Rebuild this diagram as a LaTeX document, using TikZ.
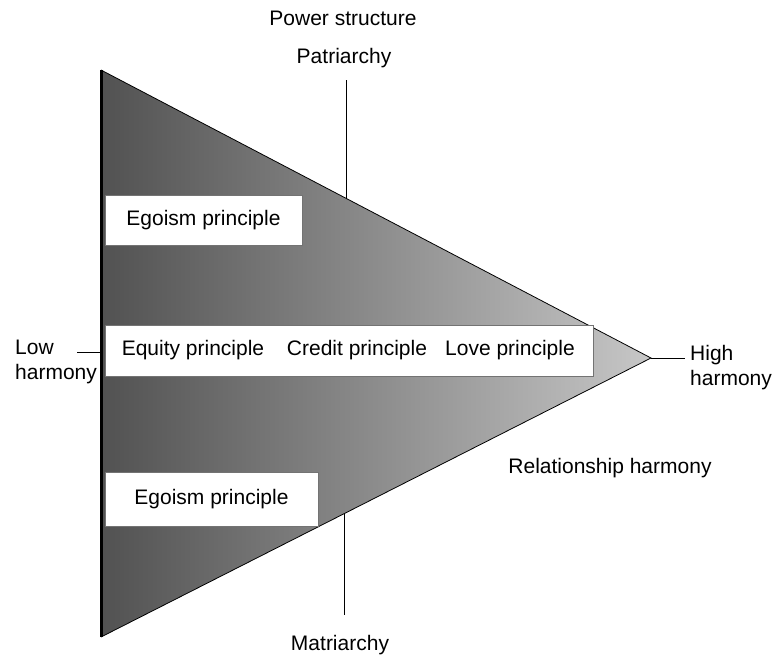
\documentclass[tikz,border=0pt]{standalone}
\usepackage{fontspec}
\setmainfont{Liberation Sans}
\begin{document}
\begin{tikzpicture}[x=1pt, y=-1pt,
    lbl/.style={font=\fontsize{21}{25}\selectfont, inner sep=0pt},
    pbox/.style={fill=white, draw=black!55, line width=.6pt, inner sep=0pt}]
    \useasboundingbox (0,0) rectangle (776,657);
    % triangle
    \coordinate (tl) at (101,70);
    \coordinate (bl) at (101,637);
    \coordinate (apex) at (651,358);
    \shade[left color=black!68, right color=black!22] (tl) -- (apex) -- (bl) -- cycle;
    \draw[line width=.8pt] (tl) -- (apex) -- (bl);
    \draw[line width=3pt] (tl) -- (bl);
    % principle boxes
    \node[pbox, lbl, minimum width=197, minimum height=50] (egotop) at (203.5,220) {Egoism principle};
    \node[pbox, minimum width=488, minimum height=51] (mid) at (349,350.5) {};
    \node[pbox, lbl, minimum width=213, minimum height=54] (egobot) at (211.5,499) {Egoism principle};
    \node[lbl] (equity) at (193,350) {Equity principle};
    \node[lbl] (credit) at (357,350) {Credit principle};
    \node[lbl] (love) at (510,350) {Love principle};
    % power structure axis
    \node[lbl] (power) at (343,18) {Power structure};
    \node[lbl] (patr) at (344,58) {Patriarchy};
    \node[lbl] (matr) at (340,645) {Matriarchy};
    \coordinate (ptop) at (346,80);
    \coordinate (pedge) at (346,199);
    \coordinate (medge) at (344,513);
    \coordinate (mbot) at (344,615);
    \draw[line width=.8pt] (ptop) -- (pedge);
    \draw[line width=.8pt] (medge) -- (mbot);
    % harmony labels
    \node[lbl, align=left, anchor=west] (low) at (15,362) {Low\\harmony};
    \coordinate (lowtick) at (77,352);
    \coordinate (lowedge) at (101,352);
    \draw[line width=.8pt] (lowtick) -- (lowedge);
    \node[lbl, align=left, anchor=west] (high) at (690,368) {High\\harmony};
    \coordinate (hightick) at (685,358);
    \draw[line width=.8pt] (apex) -- (hightick);
    \node[lbl] (relation) at (610,468) {Relationship harmony};
\end{tikzpicture}
\end{document}
